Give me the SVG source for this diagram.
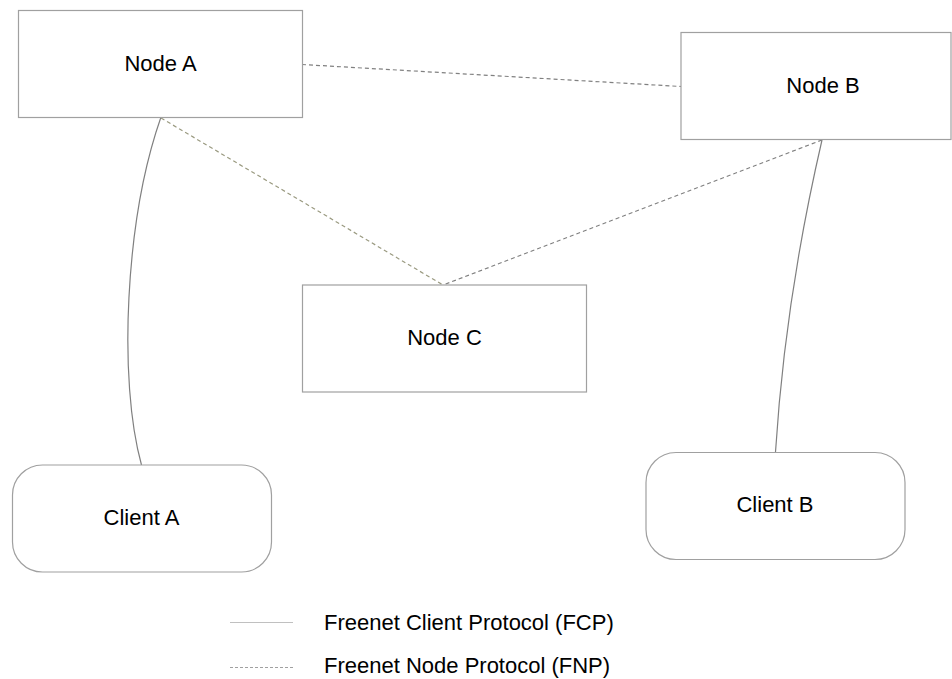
<svg xmlns="http://www.w3.org/2000/svg" width="952" height="679" viewBox="0 0 952 679">
<style>
.box{fill:#fff;stroke:#a0a0a0;stroke-width:1.2}
.lbl{font-family:"Liberation Sans",Arial,sans-serif;font-size:22px;fill:#000;text-anchor:middle}
.leg{font-family:"Liberation Sans",Arial,sans-serif;font-size:22px;fill:#000}
.fcp{fill:none;stroke:#808080;stroke-width:1.2}
.fnp{fill:none;stroke:#808080;stroke-width:1.2;stroke-dasharray:4,3}
.fnp2{fill:none;stroke:#9a9a80;stroke-width:1.2;stroke-dasharray:4,3}
</style>
<rect width="952" height="679" fill="#fff"/>
<g id="connectors">
<path class="fnp" d="M302,64.5 L681,86.5"/>
<path class="fnp2" d="M161,118 L443,285"/>
<path class="fnp" d="M822,140 L443,285"/>
<path class="fcp" d="M161,117 C125,220 118,380 141.5,465"/>
<path class="fcp" d="M822,140 Q785,300 775.5,452"/>
</g>
<g id="nodeA"><rect class="box" x="18.5" y="10.5" width="284" height="107"/><text class="lbl" x="160.5" y="71">Node A</text></g>
<g id="nodeB"><rect class="box" x="681" y="32.5" width="270" height="107"/><text class="lbl" x="823" y="93">Node B</text></g>
<g id="nodeC"><rect class="box" x="302.5" y="285" width="284" height="107"/><text class="lbl" x="444.5" y="345">Node C</text></g>
<g id="clientA"><rect class="box" x="12.5" y="465" width="259" height="107" rx="30" ry="30"/><text class="lbl" x="141.5" y="525">Client A</text></g>
<g id="clientB"><rect class="box" x="646" y="452.5" width="259" height="107" rx="30" ry="30"/><text class="lbl" x="775" y="512">Client B</text></g>
<g id="legend">
<line x1="230" y1="622.5" x2="293" y2="622.5" stroke="#c0c0c0" stroke-width="1.2"/>
<line x1="230" y1="667.5" x2="293" y2="667.5" stroke="#a0a0a0" stroke-width="1.2" stroke-dasharray="3,2"/>
<text class="leg" x="324" y="630">Freenet Client Protocol (FCP)</text>
<text class="leg" x="324" y="673">Freenet Node Protocol (FNP)</text>
</g>
</svg>
